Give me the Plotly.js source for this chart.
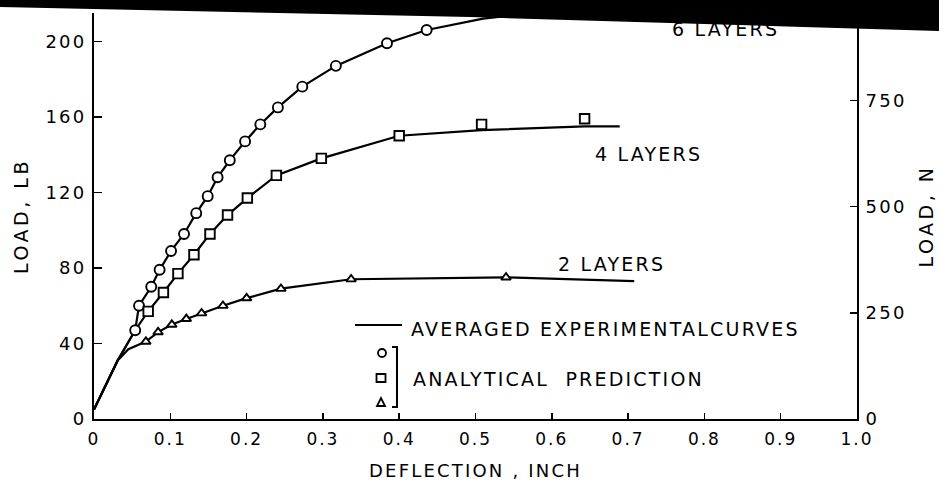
<!DOCTYPE html>
<html>
<head>
<meta charset="utf-8">
<script src="https://cdn.plot.ly/plotly-3.0.1.min.js"></script>
<style>
  html, body { margin: 0; padding: 0; background: #fff; }
  #chart { width: 939px; height: 490px; }
  .xtick text { letter-spacing: 2px; }
  .ytick text, .y2tick text { letter-spacing: 2.2px; }
  .annotation-text { letter-spacing: 2.2px; }
  .g-xtitle text { letter-spacing: 2.2px; }
  .g-ytitle text, .g-y2title text { letter-spacing: 3.5px; }
</style>
</head>
<body>
<div id="chart"></div>
<script>
// ---- Data ----
// Averaged experimental curves: deflection (inch) vs load (lb)
const exp6X = [0, 0.031, 0.054, 0.059, 0.075, 0.086, 0.101, 0.118, 0.134, 0.149, 0.162, 0.178, 0.198, 0.218, 0.241, 0.273, 0.317, 0.384, 0.436, 0.51, 0.6, 0.7];
const exp6Y = [5, 31, 47, 60, 70, 79, 89, 98, 109, 118, 128, 137, 147, 156, 165, 176, 187, 199, 206, 212, 216, 218];
const exp4X = [0, 0.031, 0.054, 0.071, 0.091, 0.110, 0.131, 0.152, 0.175, 0.201, 0.239, 0.298, 0.400, 0.508, 0.643, 0.689];
const exp4Y = [5, 31, 47, 57, 67, 77, 87, 98, 108, 117, 129, 138, 150, 153, 155, 155];
const exp2X = [0, 0.031, 0.045, 0.068, 0.084, 0.102, 0.121, 0.141, 0.169, 0.200, 0.245, 0.337, 0.540, 0.708];
const exp2Y = [5, 31, 37, 41, 46, 50, 53, 56, 60, 64, 69, 74, 75, 73];

// Analytical prediction points
const pred6X = [0.054, 0.059, 0.075, 0.086, 0.101, 0.118, 0.134, 0.149, 0.162, 0.178, 0.198, 0.218, 0.241, 0.273, 0.317, 0.384, 0.436];
const pred6Y = [47, 60, 70, 79, 89, 98, 109, 118, 128, 137, 147, 156, 165, 176, 187, 199, 206];
const pred4X = [0.071, 0.091, 0.110, 0.131, 0.152, 0.175, 0.201, 0.239, 0.298, 0.400, 0.508, 0.643];
const pred4Y = [57, 67, 77, 87, 98, 108, 117, 129, 138, 150, 156, 159];
const pred2X = [0.068, 0.084, 0.102, 0.121, 0.141, 0.169, 0.200, 0.245, 0.337, 0.540];
const pred2Y = [41, 46, 50, 53, 56, 60, 64, 69, 74, 75];

// Tick labels
const xTickVals = [0, 0.1, 0.2, 0.3, 0.4, 0.5, 0.6, 0.7, 0.8, 0.9, 1.0];
const xTickText = ['0', '0.1', '0.2', '0.3', '0.4', '0.5', '0.6', '0.7', '0.8', '0.9', '1.0'];
const yLbTicks = [0, 40, 80, 120, 160, 200];
const yNTicks = [0, 250, 500, 750];
const curveLabels = ['6 LAYERS', '4 LAYERS', '2 LAYERS'];
const LB_TO_N = 4.44822;

// ---- Layout geometry ----
const FIG_W = 939, FIG_H = 490;
const M = { l: 94, r: 82, t: 13, b: 71 };
const PW = FIG_W - M.l - M.r, PH = FIG_H - M.t - M.b;
const yMaxLb = 215;
const px2x = px => (px - M.l) / PW;
const py2y = py => (FIG_H - M.b - py) / PH;

const FONT = 'DejaVu Sans, sans-serif';
const lineStyle = { color: '#000', width: 2.2 };
const mk = (sym, size) => ({ symbol: sym, size: size, color: '#fff', line: { color: '#000', width: 1.9 } });

const traces = [
  { x: exp6X, y: exp6Y, mode: 'lines', line: lineStyle, name: 'Experimental 6 layers', showlegend: false, hoverinfo: 'skip' },
  { x: exp4X, y: exp4Y, mode: 'lines', line: lineStyle, name: 'Experimental 4 layers', showlegend: false, hoverinfo: 'skip' },
  { x: exp2X, y: exp2Y, mode: 'lines', line: lineStyle, name: 'Experimental 2 layers', showlegend: false, hoverinfo: 'skip' },
  { x: pred6X, y: pred6Y, mode: 'markers', marker: mk('circle', 10), name: 'Analytical 6 layers', showlegend: false },
  { x: pred4X, y: pred4Y, mode: 'markers', marker: mk('square', 9.5), name: 'Analytical 4 layers', showlegend: false },
  { x: pred2X, y: pred2Y, mode: 'markers', marker: mk('triangle-up', 8.5), name: 'Analytical 2 layers', showlegend: false },
  // invisible trace to activate right axis (N)
  { x: [0], y: [0], yaxis: 'y2', mode: 'markers', marker: { opacity: 0 }, showlegend: false, hoverinfo: 'skip' }
];

// scan's dark band at the top of the page
const band = [[0, 0], [939, 0], [939, 31], [803, 27], [470, 17], [0, 7]];
const bandPath = 'M ' + band.map(p => px2x(p[0]).toFixed(4) + ',' + py2y(p[1]).toFixed(4)).join(' L ') + ' Z';

const annText = (txt, px, py, anchor) => ({
  text: txt, xref: 'paper', yref: 'paper', x: px2x(px), y: py2y(py),
  xanchor: anchor || 'center', yanchor: 'middle', showarrow: false,
  font: { family: FONT, size: 19, color: '#000' }
});

const layout = {
  width: FIG_W, height: FIG_H,
  margin: M,
  paper_bgcolor: '#fff', plot_bgcolor: '#fff',
  showlegend: false,
  font: { family: FONT, color: '#000' },
  xaxis: {
    range: [0, 1.0], tickvals: xTickVals, ticktext: xTickText,
    ticks: 'inside', ticklen: 6, tickwidth: 1.5, tickcolor: '#000',
    showline: true, linecolor: '#000', linewidth: 2, showgrid: false, zeroline: false,
    tickfont: { family: FONT, size: 17, color: '#000' }, ticklabelstandoff: 4,
    title: { text: 'DEFLECTION , INCH', font: { family: FONT, size: 18, color: '#000' }, standoff: 16 }
  },
  yaxis: {
    range: [0, yMaxLb], tickvals: yLbTicks,
    ticks: 'inside', ticklen: 8, tickwidth: 1.5, tickcolor: '#000',
    showline: true, linecolor: '#000', linewidth: 2, showgrid: false, zeroline: false,
    tickfont: { family: FONT, size: 18, color: '#000' }, ticklabelstandoff: 2,
    title: { text: 'LOAD, LB', font: { family: FONT, size: 19, color: '#000' }, standoff: 12 }
  },
  yaxis2: {
    range: [0, yMaxLb * LB_TO_N], tickvals: yNTicks, overlaying: 'y', side: 'right',
    ticks: 'inside', ticklen: 7, tickwidth: 1.5, tickcolor: '#000',
    showline: true, linecolor: '#000', linewidth: 2, showgrid: false, zeroline: false,
    tickfont: { family: FONT, size: 18, color: '#000' }, ticklabelstandoff: 3,
    title: { text: 'LOAD, N', font: { family: FONT, size: 19, color: '#000' }, standoff: 14 }
  },
  shapes: [
    { type: 'path', xref: 'paper', yref: 'paper', path: bandPath, fillcolor: '#000', line: { width: 0 }, layer: 'above' },
    // legend: line sample
    { type: 'line', xref: 'paper', yref: 'paper', x0: px2x(355), x1: px2x(402), y0: py2y(325), y1: py2y(325), line: { color: '#000', width: 2 } },
    // legend: circle, square, triangle
    { type: 'circle', xref: 'paper', yref: 'paper', x0: px2x(378), x1: px2x(386), y0: py2y(357), y1: py2y(349), line: { color: '#000', width: 1.8 }, fillcolor: '#fff' },
    { type: 'rect', xref: 'paper', yref: 'paper', x0: px2x(376.5), x1: px2x(385.5), y0: py2y(382), y1: py2y(374), line: { color: '#000', width: 1.8 }, fillcolor: '#fff' },
    { type: 'path', xref: 'paper', yref: 'paper',
      path: 'M ' + px2x(377) + ',' + py2y(406) + ' L ' + px2x(385) + ',' + py2y(406) + ' L ' + px2x(381) + ',' + py2y(398) + ' Z',
      line: { color: '#000', width: 1.8 }, fillcolor: '#fff' },
    // legend bracket
    { type: 'path', xref: 'paper', yref: 'paper',
      path: 'M ' + px2x(392) + ',' + py2y(347) + ' L ' + px2x(397) + ',' + py2y(347) + ' L ' + px2x(397) + ',' + py2y(407) + ' L ' + px2x(392) + ',' + py2y(407),
      line: { color: '#000', width: 2 } }
  ],
  annotations: [
    annText(curveLabels[0], 725, 29),
    annText(curveLabels[1], 648, 154),
    annText(curveLabels[2], 611, 264),
    annText('AVERAGED EXPERIMENTALCURVES', 409, 329, 'left'),
    annText('ANALYTICAL  PREDICTION', 411, 379, 'left')
  ]
};

Plotly.newPlot('chart', traces, layout, { displayModeBar: false, staticPlot: true });
</script>
</body>
</html>
